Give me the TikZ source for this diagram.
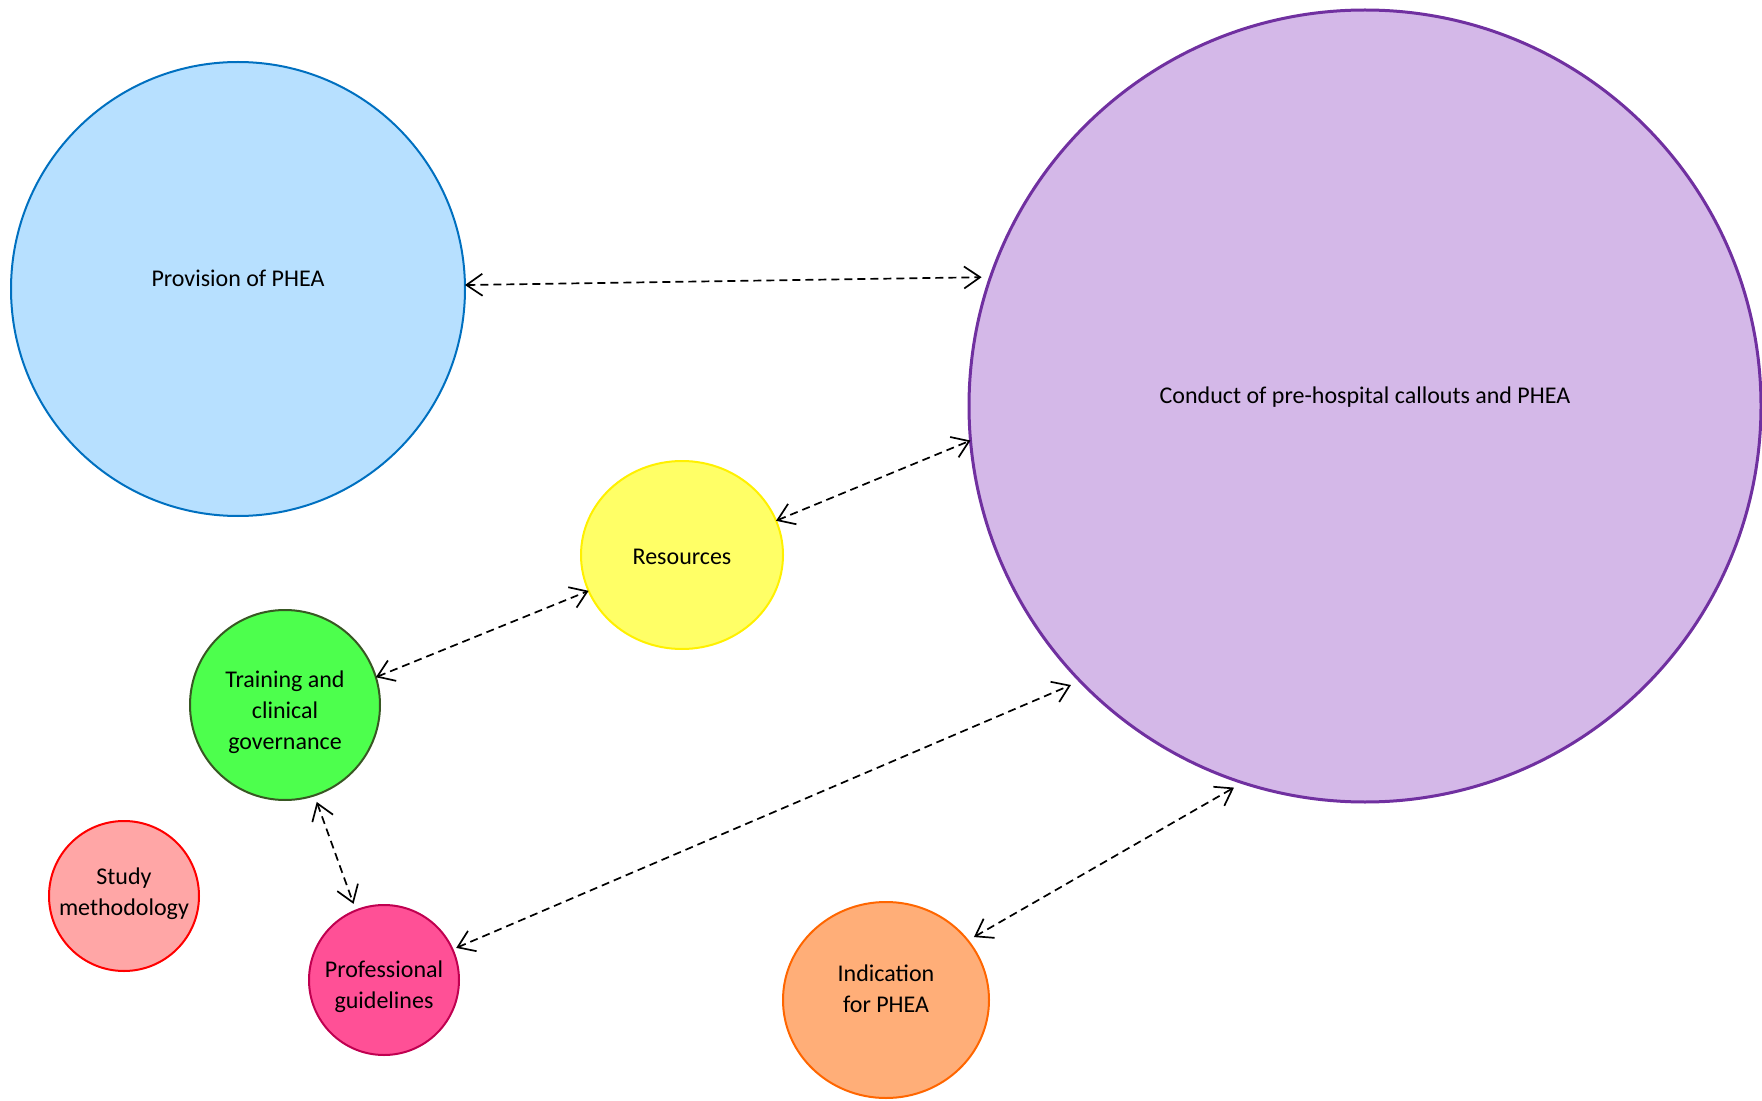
\documentclass[tikz,border=0pt]{standalone}
\usepackage{fontspec}
\setmainfont{Carlito}
\usetikzlibrary{shapes.geometric, arrows.meta}
\definecolor{provfill}{RGB}{183,224,255}
\definecolor{provline}{RGB}{0,112,192}
\definecolor{condfill}{RGB}{212,184,232}
\definecolor{condline}{RGB}{112,48,160}
\definecolor{resfill}{RGB}{255,255,102}
\definecolor{resline}{RGB}{255,240,0}
\definecolor{trainfill}{RGB}{77,255,77}
\definecolor{trainline}{RGB}{56,87,35}
\definecolor{studyfill}{RGB}{255,166,166}
\definecolor{studyline}{RGB}{255,0,0}
\definecolor{proffill}{RGB}{255,80,150}
\definecolor{profline}{RGB}{192,0,80}
\definecolor{indfill}{RGB}{255,174,120}
\definecolor{indline}{RGB}{255,102,0}

\begin{document}
\begin{tikzpicture}[x=0.5pt,y=0.5pt]
		\tikzstyle{bubble} = [circle, draw, line width=1pt, inner sep=0, outer sep=0]
		\tikzstyle{oval} = [bubble, ellipse]
		\tikzstyle{txt} = [align=center, inner sep=0, font=\fontsize{12}{15.5}\selectfont]
		\tikzstyle{link} = [{Straight Barb[length=8pt,width=11pt]}-{Straight Barb[length=8pt,width=11pt]}, dash pattern=on 4pt off 2.5pt, line width=0.85pt]
		\useasboundingbox (0,0) rectangle (1762,1100);
		\node [bubble, fill=provfill, draw=provline, minimum size=227pt] (v1) at (238,811) {};
		\node [bubble, fill=condfill, draw=condline, line width=1.5pt, minimum size=396pt] (v2) at (1365,694) {};
		\node [oval, fill=resfill, draw=resline, minimum width=101pt, minimum height=94pt] (v3) at (682,545) {};
		\node [bubble, fill=trainfill, draw=trainline, minimum size=95pt] (v4) at (285,395) {};
		\node [bubble, fill=studyfill, draw=studyline, minimum size=75pt] (v5) at (124,204) {};
		\node [bubble, fill=proffill, draw=profline, minimum size=75pt] (v6) at (384,120) {};
		\node [oval, fill=indfill, draw=indline, minimum width=103pt, minimum height=98pt] (v7) at (886,100) {};
		\node [txt] (t1) at ([yshift=5.5pt]v1) {Provision of PHEA};
		\node [txt] (t2) at ([yshift=4.5pt]v2) {Conduct of pre-hospital callouts and PHEA};
		\node [txt] (t3) at ([yshift=-1pt]v3) {Resources};
		\node [txt] (t4) at ([yshift=-3.4pt]v4) {Training and\\clinical\\governance};
		\node [txt] (t5) at ([yshift=1pt]v5) {Study\\methodology};
		\node [txt] (t6) at ([yshift=-3.4pt]v6) {Professional\\guidelines};
		\node [txt] (t7) at ([yshift=5.6pt]v7) {Indication\\for PHEA};
		\draw [link, shorten >=4.5pt] (v1.1) -- (v2.161);
		\draw [link] (v3.20) -- (v2.185);
		\draw [link] (v4.17) -- (v3.201);
		\draw [link, shorten <=3.5pt, shorten >=3.5pt] (v4.288) -- (v6.112);
		\draw [link, shorten <=2pt, shorten >=5pt] (v6.24) -- (v2.224);
		\draw [link, shorten <=3.5pt, shorten >=5pt] (v7.36) -- (v2.252);
\end{tikzpicture}
\end{document}
